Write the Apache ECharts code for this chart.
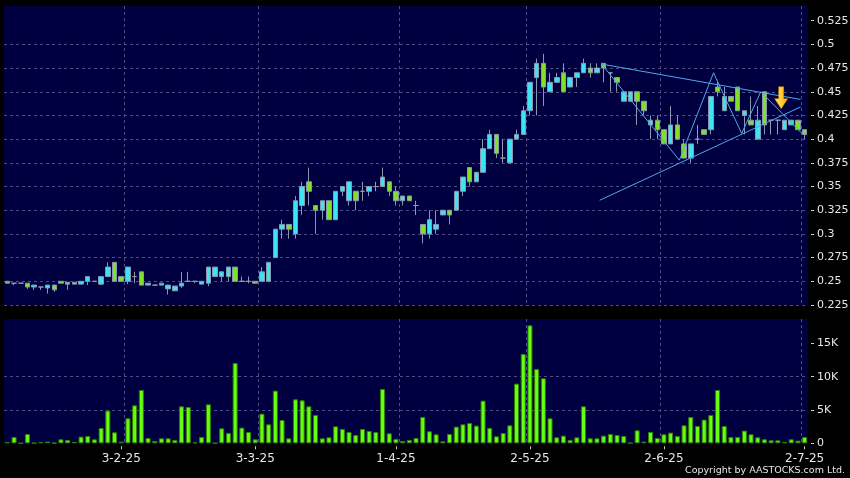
<!DOCTYPE html>
<html>
<head>
<meta charset="utf-8">
<script src="https://cdn.jsdelivr.net/npm/echarts@6/dist/echarts.min.js"></script>
<style>
html,body{margin:0;padding:0;background:#000;}
#chart{width:850px;height:478px;}
</style>
</head>
<body>
<div id="chart"></div>
<script>
// ---- data ----
const holidays = ['2025-01-29','2025-01-30','2025-01-31','2025-04-04','2025-04-18','2025-04-21','2025-05-01','2025-05-05','2025-07-01'];
const firstDay = '2025-01-03';
const dayCount = 120;

const openP = [
0.250,0.248,0.248,0.248,0.244,0.244,0.243,0.246,0.250,0.249,
0.247,0.247,0.250,0.250,0.247,0.255,0.270,0.255,0.250,0.255,
0.260,0.246,0.246,0.246,0.242,0.240,0.245,0.250,0.250,0.247,
0.248,0.255,0.255,0.255,0.265,0.250,0.250,0.250,0.250,0.250,
0.275,0.305,0.310,0.300,0.330,0.355,0.330,0.325,0.335,0.315,
0.345,0.335,0.345,0.345,0.345,0.350,0.350,0.355,0.345,0.335,
0.340,0.330,0.310,0.300,0.305,0.320,0.325,0.325,0.345,0.370,
0.355,0.365,0.390,0.405,0.380,0.375,0.400,0.405,0.430,0.465,
0.480,0.450,0.460,0.470,0.455,0.465,0.470,0.475,0.470,0.480,
0.470,0.465,0.440,0.440,0.450,0.440,0.415,0.420,0.410,0.395,
0.415,0.395,0.380,0.400,0.410,0.410,0.455,0.430,0.445,0.455,
0.425,0.420,0.400,0.450,0.420,0.420,0.410,0.415,0.420,0.410
];
const closeP = [
0.248,0.248,0.248,0.244,0.246,0.244,0.246,0.241,0.248,0.247,
0.249,0.250,0.255,0.250,0.255,0.265,0.250,0.250,0.265,0.255,
0.246,0.248,0.246,0.248,0.246,0.245,0.248,0.250,0.250,0.250,
0.265,0.265,0.260,0.265,0.250,0.250,0.250,0.248,0.260,0.270,
0.305,0.310,0.305,0.335,0.350,0.345,0.325,0.335,0.315,0.345,
0.350,0.355,0.335,0.345,0.350,0.350,0.360,0.345,0.335,0.340,
0.335,0.330,0.300,0.315,0.310,0.325,0.320,0.345,0.360,0.355,
0.365,0.390,0.405,0.385,0.380,0.400,0.405,0.430,0.460,0.480,
0.455,0.460,0.465,0.450,0.465,0.470,0.480,0.470,0.475,0.475,
0.470,0.460,0.450,0.450,0.440,0.430,0.420,0.410,0.395,0.415,
0.400,0.380,0.395,0.400,0.405,0.445,0.450,0.445,0.440,0.430,
0.430,0.415,0.420,0.415,0.420,0.420,0.420,0.420,0.410,0.405
];
const lowP = [
0.248,0.246,0.248,0.242,0.241,0.241,0.237,0.239,0.248,0.241,
0.247,0.247,0.246,0.250,0.246,0.255,0.250,0.250,0.247,0.248,
0.246,0.246,0.246,0.246,0.236,0.240,0.243,0.250,0.248,0.247,
0.245,0.255,0.250,0.250,0.250,0.250,0.248,0.248,0.250,0.250,
0.275,0.295,0.295,0.295,0.320,0.330,0.300,0.315,0.315,0.315,
0.340,0.330,0.325,0.335,0.340,0.345,0.350,0.340,0.330,0.330,
0.335,0.320,0.290,0.295,0.300,0.320,0.310,0.325,0.340,0.350,
0.355,0.365,0.390,0.380,0.375,0.375,0.400,0.405,0.425,0.425,
0.435,0.450,0.460,0.450,0.455,0.455,0.470,0.465,0.470,0.460,
0.450,0.450,0.440,0.440,0.415,0.425,0.400,0.400,0.395,0.395,
0.400,0.380,0.375,0.395,0.405,0.405,0.445,0.430,0.440,0.430,
0.405,0.415,0.400,0.405,0.405,0.405,0.410,0.415,0.410,0.400
];
const highP = [
0.250,0.248,0.248,0.248,0.246,0.244,0.246,0.246,0.250,0.249,
0.249,0.250,0.255,0.250,0.255,0.270,0.270,0.255,0.265,0.260,
0.260,0.248,0.246,0.248,0.246,0.245,0.260,0.260,0.250,0.250,
0.265,0.265,0.260,0.265,0.265,0.255,0.255,0.250,0.265,0.270,
0.305,0.315,0.310,0.340,0.355,0.370,0.330,0.335,0.335,0.345,
0.350,0.355,0.345,0.355,0.350,0.355,0.370,0.355,0.350,0.340,
0.340,0.335,0.310,0.325,0.325,0.325,0.325,0.345,0.360,0.370,
0.365,0.400,0.410,0.405,0.400,0.400,0.410,0.435,0.460,0.485,
0.490,0.470,0.470,0.480,0.465,0.470,0.485,0.480,0.480,0.480,
0.470,0.465,0.450,0.450,0.450,0.440,0.425,0.425,0.410,0.435,
0.425,0.400,0.395,0.415,0.410,0.445,0.460,0.455,0.445,0.455,
0.430,0.445,0.435,0.450,0.420,0.420,0.420,0.420,0.420,0.410
];
const volume = [
200,950,30,1400,50,200,250,50,600,500,
200,1000,1100,600,2300,4900,1650,250,3750,5700,
8000,800,350,750,750,500,5550,5450,150,950,
5850,30,2250,1550,12050,2350,1700,600,4450,2850,
7900,3500,750,6600,6450,5550,4250,750,900,2550,
2150,1700,1250,2150,1850,1700,8150,1500,650,350,
500,800,3950,1800,1350,300,1400,2500,2850,3050,
2650,6400,2300,1050,1550,2700,8950,13400,17700,11150,
9750,3750,900,1150,500,900,5550,750,750,1150,
1400,1250,1100,50,1950,250,1700,800,1350,1600,
1100,2700,3950,2600,3550,4250,8000,2600,950,950,
1900,1350,900,600,450,450,200,600,400,950
];

const xTickLabels = ['3-2-25','3-3-25','1-4-25','2-5-25','2-6-25','2-7-25'];
const xTickIndex = [17,37,58,78,98,119];
const xSplitIndex = [18,38,59,78,98,119];
const priceTicks = [0.225,0.25,0.275,0.3,0.325,0.35,0.375,0.4,0.425,0.45,0.475,0.5,0.525];
const volumeTicks = [0,5000,10000,15000];

// drawn annotations (x in candle index units, y in price)
const upperTrend = [[88.7,0.4792],[118.4,0.4419]];
const lowerTrend = [[88.4,0.3355],[118.4,0.434]];
const zigzag = [[88.7,0.4792],[100.3,0.3778],[105.4,0.470],[109.6,0.406],[112.45,0.450],[118.6,0.406]];
const arrowMark = [[115.5,0.4437]];

// ---- categories: trading days ----
const dates = [];
{
  let d = new Date(firstDay + 'T00:00:00Z');
  while (dates.length < dayCount) {
    const s = d.toISOString().slice(0,10);
    const wd = d.getUTCDay();
    if (wd !== 0 && wd !== 6 && holidays.indexOf(s) < 0) dates.push(s);
    d = new Date(d.getTime() + 86400000);
  }
}

const candleData = dates.map((_, i) => [openP[i], closeP[i], lowP[i], highP[i]]);

const chart = echarts.init(document.getElementById('chart'), null, {renderer: 'canvas'});
const gridLine = {color: '#4e4e86', type: [3, 3], width: 1};
const labelFont = {color: '#e6e6e6', fontFamily: 'DejaVu Sans'};
const fmtPrice = v => String(parseFloat(v.toFixed(3)));
const fmtVol = v => v === 0 ? '0' : (v / 1000) + 'K';
const tickFn = idx => xTickIndex.indexOf(idx) >= 0;
const splitFn = idx => xSplitIndex.indexOf(idx) >= 0;
const hidden = {show: false};
const noLine = {show: false, onZero: false};

chart.setOption({
  backgroundColor: '#000000',
  animation: false,
  tooltip: {show: false},
  grid: [
    {left: 4, right: 42, top: 6, height: 299, show: true, backgroundColor: '#000040', borderWidth: 0, outerBoundsMode: 'none'},
    {left: 4, right: 42, top: 319, height: 124.3, show: true, backgroundColor: '#000040', borderWidth: 0, outerBoundsMode: 'none'}
  ],
  xAxis: [
    {type: 'category', gridIndex: 0, data: dates, boundaryGap: true, position: 'bottom',
     axisLine: noLine, axisTick: hidden, axisLabel: hidden, axisPointer: hidden,
     splitLine: {show: true, interval: splitFn, lineStyle: gridLine, showMaxLine: false}},
    {type: 'category', gridIndex: 1, data: dates, boundaryGap: true, offset: 3, position: 'bottom',
     axisLine: noLine, axisPointer: hidden,
     axisTick: {show: true, alignWithLabel: true, interval: tickFn, length: 3, lineStyle: {color: '#cccccc'}},
     axisLabel: {show: true, interval: tickFn, margin: 7, fontSize: 12, ...labelFont,
       formatter: (val, idx) => xTickLabels[xTickIndex.indexOf(idx)] || ''},
     splitLine: {show: true, interval: splitFn, lineStyle: gridLine, showMaxLine: false}},
    {type: 'value', gridIndex: 0, min: -0.5, max: dayCount - 0.5, show: false, position: 'top',
     axisLine: noLine, axisTick: hidden, axisLabel: hidden, splitLine: hidden, axisPointer: hidden}
  ],
  yAxis: [
    {type: 'value', gridIndex: 0, position: 'right', min: 0.225, max: 0.5405, interval: 0.025, offset: 3,
     axisLine: noLine, axisPointer: hidden,
     axisTick: {show: true, length: 3, customValues: priceTicks, lineStyle: {color: '#cccccc'}},
     axisLabel: {show: true, margin: 6, fontSize: 11, customValues: priceTicks, formatter: fmtPrice, ...labelFont},
     splitLine: {show: true, lineStyle: gridLine, showMaxLine: false}},
    {type: 'value', gridIndex: 1, position: 'right', min: 0, max: 18650, interval: 5000, offset: 3,
     axisLine: noLine, axisPointer: hidden,
     axisTick: {show: true, length: 3, customValues: volumeTicks, lineStyle: {color: '#cccccc'}},
     axisLabel: {show: true, margin: 6, fontSize: 11, customValues: volumeTicks, formatter: fmtVol, ...labelFont},
     splitLine: {show: true, lineStyle: gridLine, showMaxLine: false, showMinLine: false}}
  ],
  series: [
    {type: 'candlestick', xAxisIndex: 0, yAxisIndex: 0, data: candleData, barWidth: 5,
     itemStyle: {color: '#3ae4f2', color0: '#80e02a', borderColor: '#8898ae', borderColor0: '#8898ae', borderColorDoji: '#9a9aae', borderWidth: 1}},
    {type: 'bar', xAxisIndex: 1, yAxisIndex: 1, data: volume, barWidth: 5,
     itemStyle: {color: '#66ff11', borderColor: '#2f8000', borderWidth: 1}},
    {type: 'line', xAxisIndex: 2, yAxisIndex: 0, data: upperTrend, symbol: 'none', lineStyle: {color: '#4ea8ea', width: 1}, z: 5},
    {type: 'line', xAxisIndex: 2, yAxisIndex: 0, data: lowerTrend, symbol: 'none', lineStyle: {color: '#4ea8ea', width: 1}, z: 5},
    {type: 'line', xAxisIndex: 2, yAxisIndex: 0, data: zigzag, symbol: 'none', lineStyle: {color: '#4ea8ea', width: 1}, z: 5},
    {type: 'scatter', xAxisIndex: 2, yAxisIndex: 0, data: arrowMark, z: 6,
     symbol: 'path://M4,0 L9,0 L9,12 L13,12 L6.5,22 L0,12 L4,12 Z', symbolSize: [13, 22],
     itemStyle: {color: new echarts.graphic.LinearGradient(0, 0, 1, 0, [{offset: 0, color: '#fff266'}, {offset: 1, color: '#ffa800'}]),
                 borderColor: '#d88a00', borderWidth: 0.5, opacity: 1}}
  ],
  graphic: [
    {type: 'text', right: 5, bottom: 2, style: {text: 'Copyright by AASTOCKS.com Ltd.', fill: '#e6e6e6', font: '9.5px DejaVu Sans'}}
  ]
});
</script>
</body>
</html>
